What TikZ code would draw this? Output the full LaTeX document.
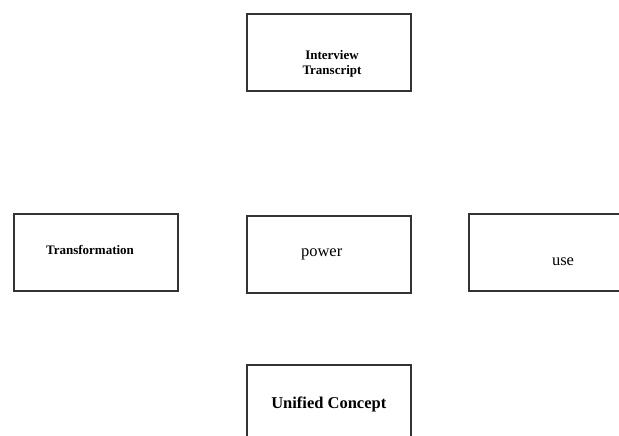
\documentclass[tikz,border=0pt]{standalone}
\usepackage{fontspec}
\setmainfont{Liberation Serif}
\usetikzlibrary{positioning}
\tikzset{
    %Define style for boxes
    cbox/.style={
           rectangle,
           draw=black!80, line width=2pt,
           minimum width=164pt,
           minimum height=77pt,
           inner sep=0pt},
    %Define styles for texts
    btext/.style={
           font=\bfseries\fontsize{13}{15}\selectfont,
           align=center,
           inner sep=0pt},
    ntext/.style={
           font=\fontsize{16.5}{18}\selectfont,
           inner sep=0pt}
}
\begin{document}
\begin{tikzpicture}[x=1pt, y=-1pt]
    \useasboundingbox (0,0) rectangle (619,436);
    \clip (0,0) rectangle (619,436);
    % BOXES
    \node[cbox] at (328.5,53) (interviewbox) {};
    \node[cbox] at (96,252) (transbox) {};
    \node[cbox] at (328.5,254.5) (powerbox) {};
    \node[cbox] at (550.5,252) (usebox) {};
    \node[cbox] at (328.5,403) (unifiedbox) {};

    % TEXTS
    \node[btext] at (332,63.5) (interview) {Interview\\Transcript};
    \node[btext, anchor=base] at (90,254) (trans) {Transformation};
    \node[ntext, anchor=base] at (321.7,256.7) (power) {power};
    \node[ntext, anchor=base] at (563,265.7) (use) {use};
    \node[ntext, font=\bfseries\fontsize{16.5}{18}\selectfont, anchor=base] at (328.8,408) (unified) {Unified Concept};
\end{tikzpicture}
\end{document}
